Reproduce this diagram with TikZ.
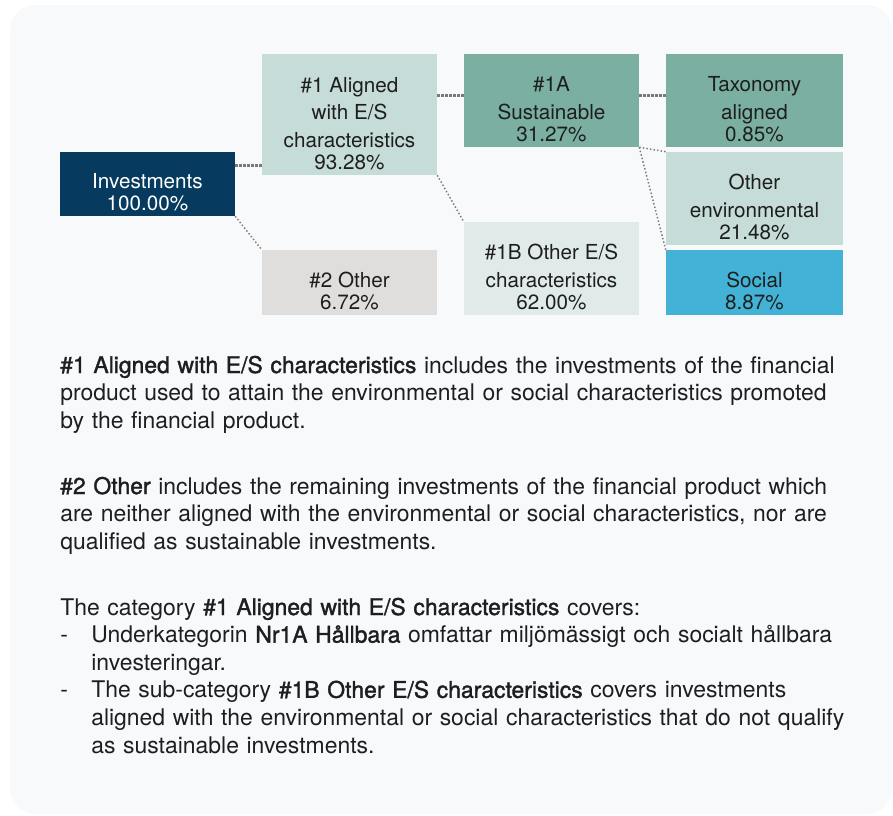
\documentclass[tikz,border=0pt]{standalone}
\usepackage{fontspec}
\setmainfont{TeX Gyre Heros}
\newfontfamily\medfont[FakeBold=1.5]{TeX Gyre Heros}

\definecolor{panel}{HTML}{F7F9FB}
\definecolor{invnavy}{HTML}{063A5E}
\definecolor{alignedmint}{HTML}{C6DCD8}
\definecolor{sustgreen}{HTML}{7AAFA2}
\definecolor{otheres}{HTML}{E0EAE8}
\definecolor{othergray}{HTML}{DFDEDC}
\definecolor{socialblue}{HTML}{42B3D6}
\definecolor{inktext}{HTML}{1E1E1E}
\definecolor{dotgray}{HTML}{7A7A7A}

\newcommand{\boxfont}{\fontsize{15.5}{20.6}\selectfont}
\newcommand{\bodyfont}{\fontsize{17.2}{20.7}\selectfont}
\newcommand{\catlabel}[3]{\parbox[c][#1][b]{#2}{\boxfont\centering #3\par\vspace{3.75pt}}}
\newcommand{\hl}[1]{{\medfont #1}}

\begin{document}
\begin{tikzpicture}[x=0.75pt,y=-0.75pt,line join=bevel,
  catbox/.style={inner sep=0pt,text=inktext},
  thickdot/.style={draw=dotgray,line width=2.25pt,dash pattern=on 2.2pt off 0.8pt},
  thindot/.style={draw=dotgray,line width=1.1pt,dash pattern=on 1.1pt off 1.6pt},
  bodytext/.style={anchor=base west,inner sep=0pt,text width=600pt,align=left,text=inktext,font=\bodyfont},
]
%%
  \useasboundingbox (0,0) rectangle (893,815);
  \fill [panel,rounded corners=18.75pt] (10,5) rectangle (892,814);

  \node (node_0) at (147.5,184) [catbox,fill=invnavy,text=white] {\catlabel{48pt}{131.25pt}{Investments\\[-4pt]100.00\%}};

  \node (node_1) at (349.5,114.5) [catbox,fill=alignedmint] {\catlabel{90.75pt}{131.25pt}{\#1 Aligned\\with E/S\\characteristics\\[-4pt]93.28\%}};

  \node (node_2) at (349.5,282.5) [catbox,fill=othergray] {\catlabel{48.75pt}{131.25pt}{\#2 Other\\[-4pt]6.72\%}};

  \node (node_3) at (551.5,100.5) [catbox,fill=sustgreen] {\catlabel{69.75pt}{131.25pt}{\#1A\\Sustainable\\[-4pt]31.27\%}};

  \node (node_4) at (551.5,268.5) [catbox,fill=otheres] {\catlabel{69.75pt}{131.25pt}{\#1B Other E/S\\characteristics\\[-4pt]62.00\%}};

  \node (node_5) at (754.5,100.5) [catbox,fill=sustgreen] {\catlabel{69.75pt}{132.75pt}{Taxonomy\\aligned\\[-4pt]0.85\%}};

  \node (node_6) at (754.5,198.5) [catbox,fill=alignedmint] {\catlabel{69.75pt}{132.75pt}{Other\\environmental\\[-4pt]21.48\%}};

  \node (node_7) at (754.5,282.5) [catbox,fill=socialblue] {\catlabel{48.75pt}{132.75pt}{Social\\[-4pt]8.87\%}};

  \draw [thickdot] ([yshift=14.25pt]node_0.east) -- ([yshift=14.25pt]node_0.east -| node_1.west);
  \draw [thickdot] ([yshift=4.1pt]node_3.west -| node_1.east) -- ([yshift=4.1pt]node_3.west);
  \draw [thickdot] ([yshift=4.1pt]node_3.east) -- ([yshift=4.1pt]node_3.east -| node_5.west);
  \draw [thindot] (node_0.south east) -- (node_2.north west);
  \draw [thindot] (node_1.south east) -- (node_4.north west);
  \draw [thindot] (node_3.south east) -- (node_6.north west);
  \draw [thindot] (node_3.south east) -- (node_7.north west);
%
  \node (node_8) at (60,373) [bodytext] {\hl{\#1 Aligned with E/S characteristics} includes the investments of the financial\\
product used to attain the environmental or social characteristics promoted\\
by the financial product.};

  \node (node_9) at (60,494) [bodytext] {\hl{\#2 Other} includes the remaining investments of the financial product which\\
are neither aligned with the environmental or social characteristics, nor are\\
qualified as sustainable investments.};

  \node (node_10) at (60,615) [bodytext] {The category \hl{\#1 Aligned with E/S characteristics} covers:\\
\makebox[23.25pt][l]{-}Underkategorin \hl{Nr1A Hållbara} omfattar miljömässigt och socialt hållbara\\
\hspace*{23.25pt}investeringar.\\
\makebox[23.25pt][l]{-}The sub-category \hl{\#1B Other E/S characteristics} covers investments\\
\hspace*{23.25pt}aligned with the environmental or social characteristics that do not qualify\\
\hspace*{23.25pt}as sustainable investments.};
%
\end{tikzpicture}
\end{document}
